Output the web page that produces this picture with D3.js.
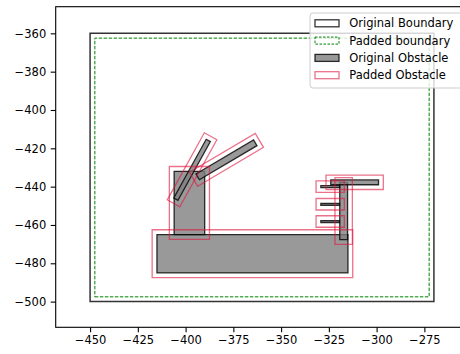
<!DOCTYPE html>
<html>
<head>
<meta charset="utf-8">
<script src="https://cdn.jsdelivr.net/npm/d3@7"></script>
<style>
  body { margin: 0; background: #fff; }
  svg { display: block; font-family: "DejaVu Sans", sans-serif; }
</style>
</head>
<body>
<div id="chart"></div>
<script>
const xTicks = [-450, -425, -400, -375, -350, -325, -300, -275];
const yTicks = [-360, -380, -400, -420, -440, -460, -480, -500];

// boundary extent: xmin, xmax, ymin, ymax
const boundary = [-450, -270, -500, -360];
const boundaryPad = 2.5;
const obstaclePad = 2.5;

// obstacles as centre, length, thickness, angle (degrees)
const obsCx = [-365, -398, -396.6, -378.6, -317.25, -311.5, -324.3, -324.3, -324.3];
const obsCy = [-475, -448.5, -431.2, -426, -452.7, -437.75, -440, -449.2, -458.2];
const obsLen = [100, 16, 35, 35, 4.1, 25, 9.8, 9.8, 9.8];
const obsWid = [20, 33, 2.5, 3.5, 29.8, 2.5, 1, 1, 1];
const obsAngle = [0, 0, 61, 30.5, 0, 0, 0, 0, 0];

const legendLabels = ['Original Boundary', 'Padded boundary', 'Original Obstacle', 'Padded Obstacle'];

const width = 460, height = 354;
const box = { left: 55.7, top: 6.7, right: 468.3, bottom: 327.3 };
const fontSize = 11.5;

const svg = d3.select('#chart').append('svg')
  .attr('width', width)
  .attr('height', height);

const x = d3.scaleLinear().domain([-468, -252]).range([box.left, box.right]);
const y = d3.scaleLinear().domain([-513.4, -346.1]).range([box.bottom, box.top]);

const line = d3.line().x(d => x(d[0])).y(d => y(d[1]));

function corners(cx, cy, len, wid, angle) {
  const a = angle * Math.PI / 180;
  const c = Math.cos(a), s = Math.sin(a);
  return [[-1, -1], [1, -1], [1, 1], [-1, 1]].map(([sl, sw]) => [
    cx + sl * len / 2 * c - sw * wid / 2 * s,
    cy + sl * len / 2 * s + sw * wid / 2 * c,
  ]);
}

const plot = svg.append('g');

// boundaries
const [bx0, bx1, by0, by1] = boundary;
plot.append('path')
  .attr('d', line([[bx0, by0], [bx1, by0], [bx1, by1], [bx0, by1]]) + 'Z')
  .attr('fill', 'none')
  .attr('stroke', '#000')
  .attr('stroke-opacity', 0.8)
  .attr('stroke-width', 1.5);

const p = boundaryPad;
plot.append('path')
  .attr('d', line([[bx0 + p, by0 + p], [bx1 - p, by0 + p], [bx1 - p, by1 - p], [bx0 + p, by1 - p]]) + 'Z')
  .attr('fill', 'none')
  .attr('stroke', '#008000')
  .attr('stroke-width', 1)
  .attr('stroke-dasharray', '3.5,1.5');

const obstacles = obsCx.map((cx, i) => ({
  cx, cy: obsCy[i], len: obsLen[i], wid: obsWid[i], angle: obsAngle[i],
}));

plot.selectAll('.obstacle')
  .data(obstacles)
  .join('path')
  .attr('class', 'obstacle')
  .attr('d', d => line(corners(d.cx, d.cy, d.len, d.wid, d.angle)) + 'Z')
  .attr('fill', 'gray')
  .attr('fill-opacity', 0.8)
  .attr('stroke', '#000')
  .attr('stroke-opacity', 0.8)
  .attr('stroke-width', 1.3);

plot.selectAll('.padded')
  .data(obstacles)
  .join('path')
  .attr('class', 'padded')
  .attr('d', d => line(corners(d.cx, d.cy, d.len + 2 * obstaclePad, d.wid + 2 * obstaclePad, d.angle)) + 'Z')
  .attr('fill', 'none')
  .attr('stroke', 'crimson')
  .attr('stroke-opacity', 0.6)
  .attr('stroke-width', 1.3);

// axes
const xAxis = svg.append('g')
  .attr('transform', `translate(0,${box.bottom})`)
  .call(d3.axisBottom(x).tickValues(xTicks).tickSize(5).tickPadding(4).tickSizeOuter(0));
const yAxis = svg.append('g')
  .attr('transform', `translate(${box.left},0)`)
  .call(d3.axisLeft(y).tickValues(yTicks).tickSize(5).tickPadding(4.5).tickSizeOuter(0));

[xAxis, yAxis].forEach(ax => {
  ax.select('.domain').remove();
  ax.selectAll('line').attr('stroke', '#000').attr('stroke-width', 1.1);
  ax.selectAll('text')
    .attr('fill', '#000')
    .style('font-size', fontSize + 'px')
    .style('font-family', '"DejaVu Sans", sans-serif');
});

svg.append('rect')
  .attr('x', box.left)
  .attr('y', box.top)
  .attr('width', box.right - box.left)
  .attr('height', box.bottom - box.top)
  .attr('fill', 'none')
  .attr('stroke', '#000')
  .attr('stroke-width', 1.1);

// legend
const legend = svg.append('g').attr('transform', 'translate(310,13)');
legend.append('rect')
  .attr('width', 152.5)
  .attr('height', 75)
  .attr('rx', 3)
  .attr('fill', '#fff')
  .attr('fill-opacity', 0.8)
  .attr('stroke', '#ccc')
  .attr('stroke-width', 1);

const handleStyles = [
  { fill: 'none', stroke: '#000', opacity: 0.8, dash: null },
  { fill: 'none', stroke: '#008000', opacity: 1, dash: '2.5,1.5' },
  { fill: 'gray', stroke: '#000', opacity: 0.8, dash: null },
  { fill: 'none', stroke: 'crimson', opacity: 0.6, dash: null },
];

const rows = legend.selectAll('.row')
  .data(legendLabels)
  .join('g')
  .attr('class', 'row')
  .attr('transform', (d, i) => `translate(0,${10.3 + i * 17.3})`);

rows.append('rect')
  .attr('x', 5)
  .attr('y', -3.5)
  .attr('width', 24)
  .attr('height', 7)
  .attr('fill', (d, i) => handleStyles[i].fill)
  .attr('fill-opacity', (d, i) => handleStyles[i].opacity)
  .attr('stroke', (d, i) => handleStyles[i].stroke)
  .attr('stroke-opacity', (d, i) => handleStyles[i].opacity)
  .attr('stroke-dasharray', (d, i) => handleStyles[i].dash)
  .attr('stroke-width', (d, i) => i === 1 ? 1 : 1.3);

rows.append('text')
  .attr('x', 39.3)
  .attr('dy', '0.35em')
  .style('font-size', fontSize + 'px')
  .text(d => d);
</script>
</body>
</html>
